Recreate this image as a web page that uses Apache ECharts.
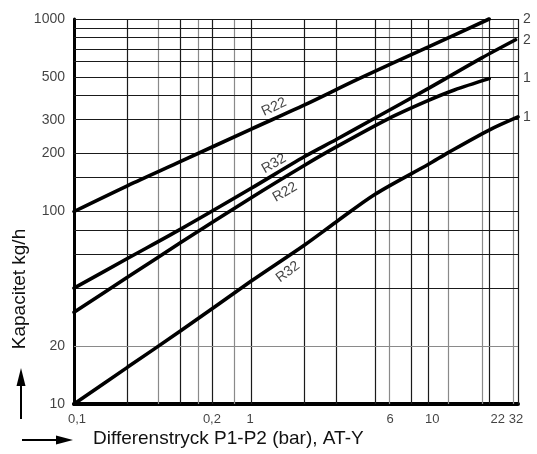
<!DOCTYPE html>
<html><head><meta charset="utf-8">
<script src="https://cdn.jsdelivr.net/npm/echarts@6/dist/echarts.min.js"></script>
<style>html,body{margin:0;padding:0;background:#fff}#c{width:537px;height:454px}</style>
</head><body><div id="c"></div>
<script>
// Curve data: [Differenstryck bar, Kapacitet kg/h]
const curveNames = ['R22', 'R32', 'R22', 'R32'];
const r22Top   = [[0.1,100],[0.2,136],[0.4,182],[1,268],[2,358],[4,487],[10,716],[22,1000]];
const r32Upper = [[0.1,40],[0.2,57],[0.4,81],[1,132],[2,193],[3,236],[5,306],[10,436],[20,628],[31,780]];
const r22Lower = [[0.1,30],[0.2,45.5],[0.4,69],[1,118],[2,174],[3,216],[6,305],[10,378],[14,428],[22,490]];
const r32Lower = [[0.1,10],[0.2,15.5],[0.4,24],[1,43.5],[2,67],[3,88],[5,123],[10,176],[13,203],[22,265],[32,310]];

// Tick labels
const xTickLabels = ['0,1','0,2','1','6','10','22','32'];
const xTickPos    = [0.104, 0.6, 0.985, 6.07, 10.5, 24.6, 31.2];
const yTickLabels = ['10','20','100','200','300','500','1000'];
const yTickVals   = [10, 20, 100, 200, 300, 500, 1000];

// Grid lines
const xGridDark  = [0.2, 0.4, 0.6, 1, 2, 3, 5, 8, 10, 22, 32];
const xGridLight = [0.3, 0.5, 0.8, 6, 13, 20, 30];
const yGridDark  = [40, 60, 80, 100, 150, 200, 300, 400, 500, 600, 700, 800, 900, 1000];
const yGridLight = [20];

// Curve annotations
const curveLabelPos = [[1.345,349],[1.345,177],[1.55,126],[1.61,48.5]];
const curveLabelRot = [25, 30, 30, 37];
const endLabels = ['2','2','1','1'];
const endVals   = [1000, 780, 490, 310];

const FONT = "'Liberation Sans', Arial, sans-serif";
const chart = echarts.init(document.getElementById('c'), null, {renderer: 'canvas'});

const gridLines = []
  .concat(xGridDark.map(v => ({xAxis: v, lineStyle: {color: '#1a1a1a', width: 1.2, type: 'solid'}})))
  .concat(xGridLight.map(v => ({xAxis: v, lineStyle: {color: '#8a8a8a', width: 1.2, type: 'solid'}})))
  .concat(yGridDark.map(v => ({yAxis: v, lineStyle: {color: '#1a1a1a', width: 1.2, type: 'solid'}})))
  .concat(yGridLight.map(v => ({yAxis: v, lineStyle: {color: '#8a8a8a', width: 1.2, type: 'solid'}})));

const curves = [r22Top, r32Upper, r22Lower, r32Lower];

const option = {
  animation: false,
  backgroundColor: '#fff',
  grid: {left: 74, right: 19, top: 19, bottom: 50},
  xAxis: {
    type: 'log', logBase: 10, min: 0.1, max: 32,
    axisLine: {show: true, lineStyle: {color: '#000', width: 4}},
    axisTick: {show: false}, axisLabel: {show: false}, splitLine: {show: false}
  },
  yAxis: {
    type: 'log', logBase: 10, min: 10, max: 1000,
    axisLine: {show: true, lineStyle: {color: '#000', width: 3}},
    axisTick: {show: false}, axisLabel: {show: false}, splitLine: {show: false}
  },
  series: [
    {
      type: 'scatter', name: 'yticks', symbolSize: 0, clip: false, z: 1,
      data: yTickVals.map((v, i) => ({value: [0.1, v], label: {formatter: yTickLabels[i]}})),
      label: {show: true, position: 'left', distance: 9, color: '#111', fontSize: 14, fontFamily: FONT},
      markLine: {silent: true, symbol: ['none', 'none'], label: {show: false}, animation: false, data: gridLines}
    },
    {
      type: 'scatter', name: 'xticks', symbolSize: 0, clip: false, z: 1,
      data: xTickPos.map((v, i) => ({value: [v, 10], label: {formatter: xTickLabels[i]}})),
      label: {show: true, position: 'bottom', distance: 9, color: '#111', fontSize: 13, fontFamily: FONT}
    },
    ...curves.map((d, i) => ({
      type: 'line', name: curveNames[i], data: d, showSymbol: false, symbol: 'none',
      smooth: 0.3, z: 5, clip: false,
      lineStyle: {color: '#000', width: 3.6, cap: 'round'}
    })),
    {
      type: 'scatter', name: 'curveLabels', symbolSize: 0, z: 6, clip: false,
      data: curveLabelPos.map((p, i) => ({value: p, label: {rotate: curveLabelRot[i], formatter: curveNames[i]}})),
      label: {show: true, position: 'inside', color: '#111', fontSize: 14, fontFamily: FONT}
    },
    {
      type: 'scatter', name: 'endLabels', symbolSize: 0, z: 6, clip: false,
      data: endVals.map((v, i) => ({value: [32, v], label: {formatter: endLabels[i]}})),
      label: {show: true, position: 'right', distance: 5, color: '#111', fontSize: 14, fontFamily: FONT}
    }
  ],
  graphic: [
    {type: 'text', x: 20, y: 289, rotation: Math.PI / 2,
     style: {text: 'Kapacitet kg/h', font: '19px ' + FONT, fill: '#111', textAlign: 'center', textVerticalAlign: 'middle'}},
    {type: 'text', x: 93, y: 439,
     style: {text: 'Differenstryck P1-P2 (bar), AT-Y', font: '19px ' + FONT, fill: '#111', textAlign: 'left', textVerticalAlign: 'middle'}},
    {type: 'line', shape: {x1: 21, y1: 419, x2: 21, y2: 380}, style: {stroke: '#000', lineWidth: 2}},
    {type: 'polygon', shape: {points: [[16.5, 386], [21, 368], [25.5, 386]]}, style: {fill: '#000'}},
    {type: 'line', shape: {x1: 22, y1: 440, x2: 60, y2: 440}, style: {stroke: '#000', lineWidth: 2}},
    {type: 'polygon', shape: {points: [[56, 435.5], [73, 440], [56, 444.5]]}, style: {fill: '#000'}}
  ]
};
chart.setOption(option);
</script>
</body></html>
